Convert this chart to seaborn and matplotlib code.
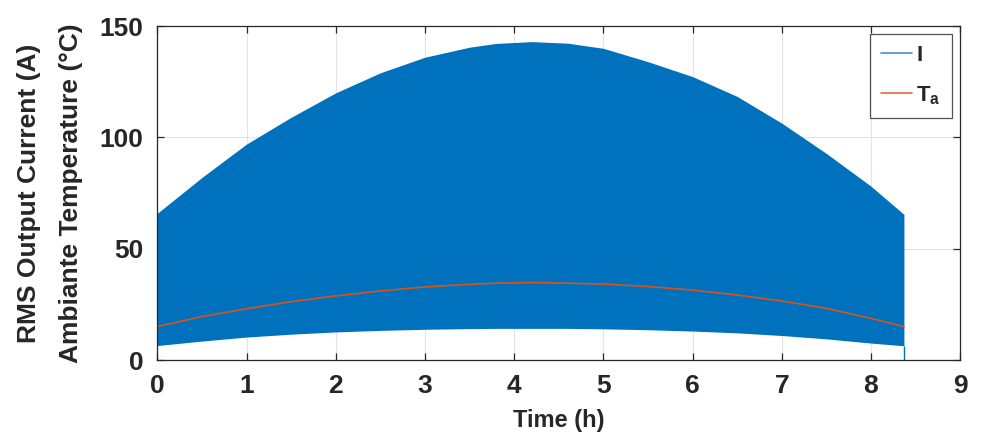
import numpy as np
import pandas as pd
import seaborn as sns
import matplotlib.pyplot as plt
from matplotlib.lines import Line2D

# envelope of the fast-switching RMS current and the ambient temperature
time_h = [0, 0.5, 1, 1.5, 2, 2.5, 3, 3.5, 3.8, 4.2, 4.6, 5, 5.5, 6, 6.5, 7, 7.5, 8, 8.37]
current_upper = [65.9, 82, 97, 109, 120, 129, 136, 140.5, 142.2, 143.0, 142.3, 140, 134, 127.3, 118.4, 106.4, 92.8, 78.1, 65.4]
current_lower = [6.5, 8.5, 10.3, 11.6, 12.6, 13.3, 13.8, 14.1, 14.2, 14.2, 14.2, 14.0, 13.6, 13.0, 12.2, 11.0, 9.5, 7.6, 6.4]
ambient_temp = [15, 19.5, 23, 26.2, 28.8, 31, 32.8, 34, 34.5, 34.8, 34.5, 34.1, 33, 31.4, 29.2, 26.5, 23.2, 18.7, 15]

x_ticks = [0, 1, 2, 3, 4, 5, 6, 7, 8, 9]
y_ticks = [0, 50, 100, 150]

blue = "#0072BD"
orange = "#D95319"

df = pd.DataFrame({"Time": time_h, "Upper": current_upper, "Lower": current_lower, "Ta": ambient_temp})

sns.set_style("ticks")
plt.rcParams["font.family"] = ["Liberation Sans", "DejaVu Sans"]
plt.rcParams["font.weight"] = "bold"
plt.rcParams["mathtext.fontset"] = "custom"
plt.rcParams["mathtext.bf"] = "Liberation Sans:bold"
plt.rcParams["mathtext.rm"] = "Liberation Sans:bold"

fig = plt.figure(figsize=(9.97, 4.34), dpi=100)
ax = fig.add_axes([0.1578, 0.1705, 0.8052, 0.7695])

ax.fill_between(df["Time"], df["Lower"], df["Upper"], color=blue, linewidth=0)
ax.vlines(df["Time"].iloc[-1], 0, df["Lower"].iloc[-1], color=blue, linewidth=1)
sns.lineplot(data=df, x="Time", y="Ta", color=orange, linewidth=1.2, ax=ax)

ax.set_xlim(0, 9)
ax.set_ylim(0, 150)
ax.set_xticks(x_ticks)
ax.set_yticks(y_ticks)
ax.grid(True, color="#e3e3e3", linewidth=0.8)
ax.set_axisbelow(True)
for s in ax.spines.values():
    s.set_color("#262626")
    s.set_linewidth(0.9)
ax.tick_params(direction="in", top=True, right=True, length=5, width=0.9,
               labelsize=19, colors="#262626", pad=10)
for lab in ax.get_xticklabels() + ax.get_yticklabels():
    lab.set_fontweight("bold")

ax.set_xlabel("Time (h)", fontsize=17, fontweight="bold", color="#262626", labelpad=8)
ax.set_ylabel("RMS Output Current (A)\nAmbiante Temperature (°C)", fontsize=19,
              fontweight="bold", color="#262626", labelpad=12, linespacing=1.95)

handles = [Line2D([], [], color="#4a8fd0", linewidth=1.2),
           Line2D([], [], color="#e06a3a", linewidth=1.2)]
leg = ax.legend(handles, ["I", r"$\mathbf{T_{a}}$"], loc="upper right",
                bbox_to_anchor=(0.990, 0.976), borderaxespad=0, fontsize=16, frameon=True,
                fancybox=False, handlelength=1.4, handletextpad=0.2, labelspacing=0.8,
                borderpad=0.5)
leg.get_frame().set_edgecolor("#262626")
leg.get_frame().set_linewidth(0.9)
for txt in leg.get_texts():
    txt.set_fontweight("bold")

fig.savefig("out.png", dpi=100)
plt.close(fig)
